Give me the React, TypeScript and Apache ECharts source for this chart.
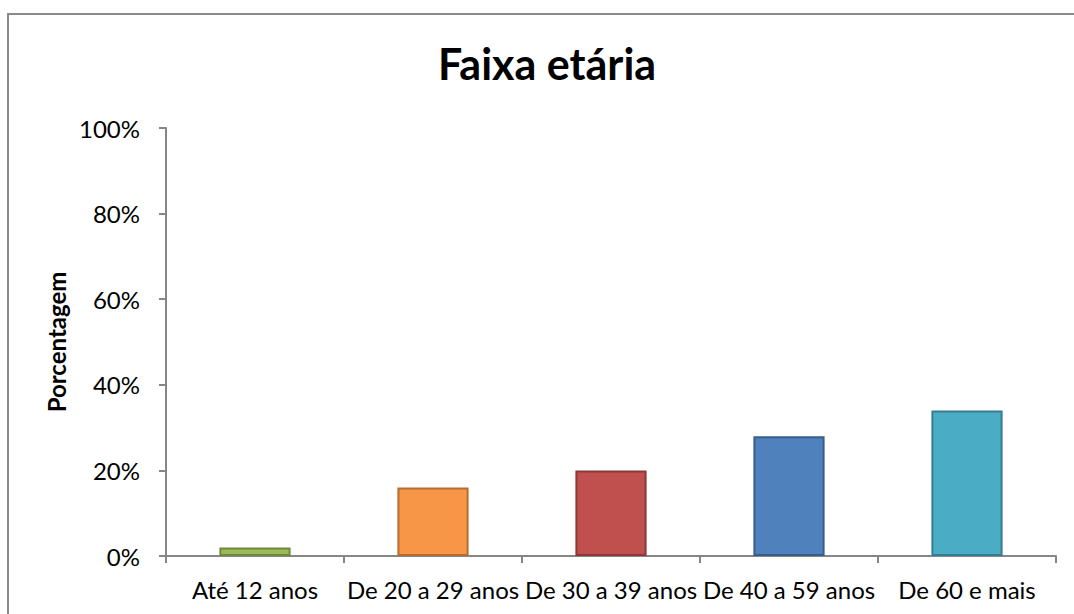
import React, { useEffect, useRef } from "react";
import * as echarts from "echarts";

const categories = ["Até 12 anos", "De 20 a 29 anos", "De 30 a 39 anos", "De 40 a 59 anos", "De 60 e mais"];
const values = [2, 16, 20, 28, 34];
const fillColors = ["#9BBB59", "#F79646", "#C0504D", "#4F81BD", "#4BACC6"];
const borderColors = ["#71893F", "#B66D31", "#8C3836", "#385D8A", "#357D91"];
const titleText = "Faixa etária";
const yAxisName = "Porcentagem";

export default function App() {
  const ref = useRef<HTMLDivElement>(null);
  useEffect(() => {
    if (!ref.current) return;
    const chart = echarts.init(ref.current, null, { renderer: "svg" });
    const axisColor = "#868686";
    const font = "Lato, 'Open Sans', sans-serif";
    chart.setOption({
      animation: false,
      backgroundColor: "transparent",
      title: {
        text: titleText,
        left: 542,
        top: 37,
        textAlign: "center",
        textStyle: { fontFamily: font, fontWeight: "bold", fontSize: 43, color: "#000" },
      },
      grid: { left: 166, right: 18, top: 128, bottom: 58, containLabel: false },
      xAxis: {
        type: "category",
        data: categories,
        axisLine: { show: true, lineStyle: { color: axisColor, width: 2 } },
        axisTick: { show: true, alignWithLabel: false, length: 7, lineStyle: { color: axisColor, width: 2 } },
        axisLabel: { color: "#000", fontFamily: font, fontSize: 24, margin: 21, interval: 0 },
      },
      yAxis: {
        type: "value",
        min: 0,
        max: 100,
        interval: 20,
        name: yAxisName,
        nameLocation: "middle",
        nameGap: 91,
        nameRotate: 90,
        nameTextStyle: { fontFamily: font, fontWeight: "bold", fontSize: 24, color: "#000" },
        axisLine: { show: true, lineStyle: { color: axisColor, width: 2 } },
        axisTick: { show: true, length: 7, lineStyle: { color: axisColor, width: 2 } },
        splitLine: { show: false },
        axisLabel: { color: "#000", fontFamily: font, fontSize: 24, margin: 26, formatter: "{value}%" },
      },
      series: [
        {
          type: "bar",
          barWidth: "40%",
          data: values.map((v, i) => ({
            value: v,
            itemStyle: { color: fillColors[i], borderColor: borderColors[i], borderWidth: 2 },
          })),
        },
      ],
    });
    return () => chart.dispose();
  }, []);
  return (
    <div style={{ position: "fixed", left: 0, top: 0, width: 1074, height: 614, overflow: "hidden", background: "#fff" }}>
      <div
        style={{
          position: "absolute",
          left: 7,
          top: 13,
          width: 1200,
          height: 800,
          borderTop: "2px solid #8a8a8a",
          borderLeft: "2px solid #8a8a8a",
        }}
      />
      <div ref={ref} style={{ position: "absolute", left: 0, top: 0, width: 1074, height: 614 }} />
    </div>
  );
}
